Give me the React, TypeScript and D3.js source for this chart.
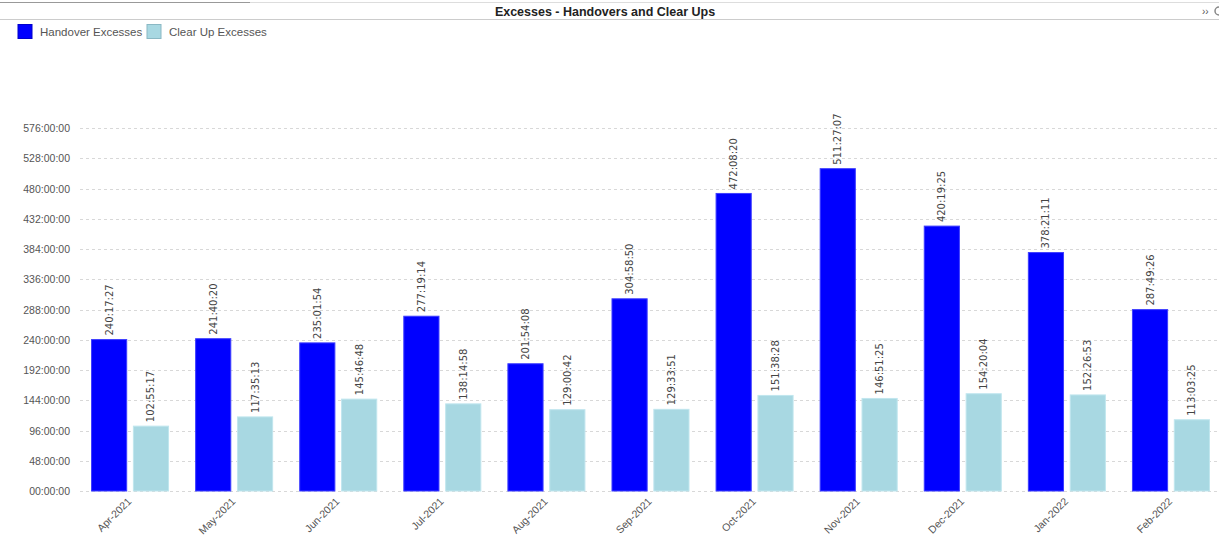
import React, { FC, useMemo } from 'react'
import * as d3 from 'd3'

const months = ['Apr-2021', 'May-2021', 'Jun-2021', 'Jul-2021', 'Aug-2021', 'Sep-2021', 'Oct-2021', 'Nov-2021', 'Dec-2021', 'Jan-2022', 'Feb-2022']
const handover = ['240:17:27', '241:40:20', '235:01:54', '277:19:14', '201:54:08', '304:58:50', '472:08:20', '511:27:07', '420:19:25', '378:21:11', '287:49:26']
const clearUp = ['102:55:17', '117:35:13', '145:46:48', '138:14:58', '129:00:42', '129:33:51', '151:38:28', '146:51:25', '154:20:04', '152:26:53', '113:03:25']
const yTicks = [0, 48, 96, 144, 192, 240, 288, 336, 384, 432, 480, 528, 576]
const seriesNames = ['Handover Excesses', 'Clear Up Excesses']
const colors = ['#0000ff', '#a8d8e2']

// "hhh:mm:ss" -> decimal hours
const toHours = (s: string) => {
	const [h, m, sec] = s.split(':').map(Number)
	return h + m / 60 + sec / 3600
}

const W = 1219
const H = 540
const top = 128
const bottom = 491
const left = 78
const right = 1223

const App: FC = () => {
	const x = useMemo(() => d3.scaleBand().domain(months).range([left, right]).paddingInner(0).paddingOuter(0), [])
	const sub = useMemo(() => d3.scaleBand().domain(['h', 'c']).range([x.bandwidth() * 0.13, x.bandwidth() * 0.87]).paddingInner(0.16), [x])
	const y = useMemo(() => d3.scaleLinear().domain([0, 576]).range([bottom, top]), [])

	const series = [handover, clearUp]
	const font = 'Tahoma, "DejaVu Sans", sans-serif'
	const axisFont = '"Liberation Sans", Arial, sans-serif'

	return (
		<svg width={W} height={H} style={{ position: 'absolute', left: 0, top: 0, background: '#fff' }}>
			{/* title bar */}
			<line x1={0} x2={250} y1={2.5} y2={2.5} stroke="#999" />
			<line x1={250} x2={W} y1={2.5} y2={2.5} stroke="#ddd" />
			<line x1={0} x2={W} y1={19.5} y2={19.5} stroke="#ccc" />
			<text x={605} y={16} textAnchor="middle" fontFamily={axisFont} fontWeight="bold" fontSize={12.5} fill="#222">
				Excesses - Handovers and Clear Ups
			</text>
			<text x={1202} y={15} fontFamily={axisFont} fontSize={10} fill="#555">››</text>
			<circle cx={1219} cy={11} r={4} fill="none" stroke="#888" strokeWidth={1.5} />

			{/* legend */}
			{seriesNames.map((n, i) => {
				const lx = i === 0 ? 18 : 147
				return (
					<g key={n}>
						<rect x={lx} y={24.5} width={14} height={14} fill={colors[i]} stroke={i === 0 ? '#0000cc' : '#8ab8c4'} />
						<text x={lx + 22} y={35.5} fontFamily={axisFont} fontSize={11.5} fill="#555">{n}</text>
					</g>
				)
			})}

			{/* grid + y axis */}
			{yTicks.map((t) => (
				<g key={t}>
					<line x1={80} x2={W} y1={Math.round(y(t)) + 0.5} y2={Math.round(y(t)) + 0.5} stroke="#d8d8d8" strokeDasharray="3,3" />
					<text x={70} y={y(t) + 4} textAnchor="end" fontFamily={axisFont} fontSize={10.5} fill="#555">
						{`${String(t).padStart(2, '0')}:00:00`}
					</text>
				</g>
			))}

			{/* bars */}
			{months.map((m, i) => (
				<g key={m} transform={`translate(${x(m)},0)`}>
					{series.map((s, j) => {
						const v = toHours(s[i])
						const bx = sub(j === 0 ? 'h' : 'c') as number
						const bw = sub.bandwidth()
						return (
							<g key={j}>
								<rect x={bx} y={y(v)} width={bw} height={bottom - y(v)} fill={colors[j]} stroke={j === 0 ? '#3d3dff' : '#c0e6ee'} strokeWidth={1} />
								<text
									transform={`translate(${bx + bw / 2 + 3.5},${y(v) - 4}) rotate(-90)`}
									fontFamily={font}
									fontSize={10}
									fill="#444"
								>
									{s[i]}
								</text>
							</g>
						)
					})}
					<text
						transform={`translate(${x.bandwidth() / 2 + 2},${bottom + 11}) rotate(-45)`}
						textAnchor="end"
						fontFamily={axisFont}
						fontSize={10.5}
						fill="#555"
					>
						{m}
					</text>
				</g>
			))}
		</svg>
	)
}

export default App
